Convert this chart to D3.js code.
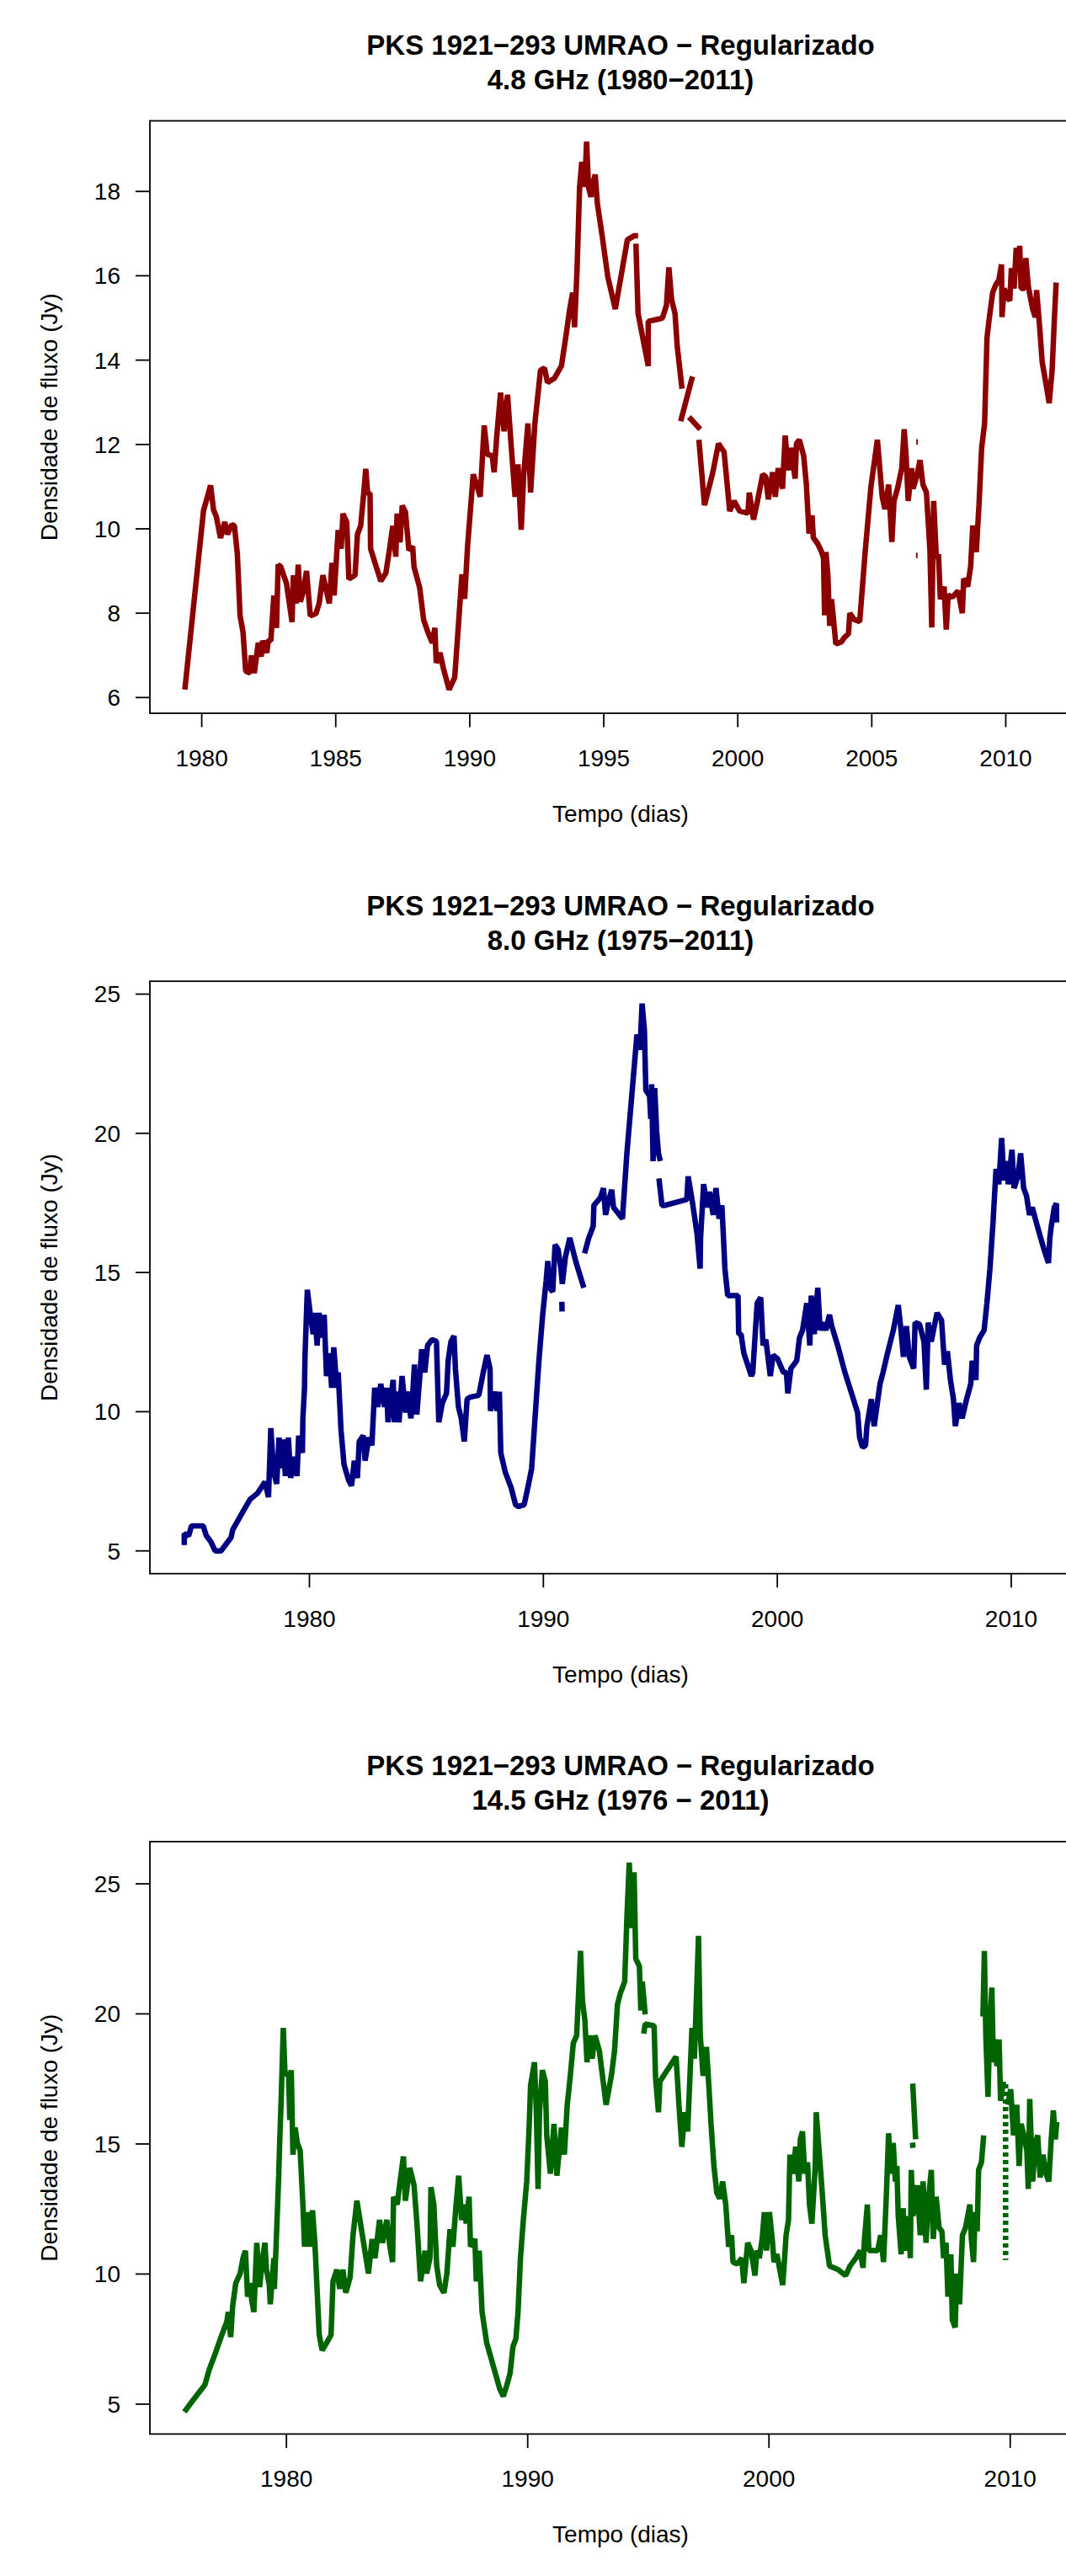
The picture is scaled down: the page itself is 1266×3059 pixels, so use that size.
<!DOCTYPE html>
<html>
<head>
<meta charset="utf-8">
<script src="https://cdn.jsdelivr.net/npm/d3@7"></script>
<style>
  html, body { margin: 0; padding: 0; background: #fff; }
  svg { display: block; font-family: "Liberation Sans", Arial, Helvetica, sans-serif; }
</style>
</head>
<body>
<div id="chart"></div>
<script>
// [ano, fluxo]; null quebra a linha
const serie48 = [
  [1979.37, 6.19], [1980.07, 10.45], [1980.12, 10.55], [1980.33, 11.03], [1980.44, 10.45], [1980.54, 10.3],
  [1980.7, 9.78], [1980.86, 10.16], [1980.96, 9.87], [1981.12, 10.1], [1981.22, 10.07], [1981.33, 9.39],
  [1981.43, 7.94], [1981.54, 7.55], [1981.64, 6.63], [1981.8, 6.58], [1981.85, 7.0], [1981.96, 6.58],
  [1982.11, 7.3], [1982.22, 6.97], [1982.27, 7.35], [1982.43, 7.06], [1982.48, 7.35], [1982.58, 7.35],
  [1982.69, 8.42], [1982.79, 7.65], [1982.85, 9.15], [1982.95, 9.1], [1983.16, 8.71], [1983.26, 8.27],
  [1983.37, 7.79], [1983.42, 8.9], [1983.53, 8.23], [1983.6, 9.15], [1983.68, 8.27], [1983.79, 8.52],
  [1983.91, 9.0], [1984.05, 7.94], [1984.26, 7.99], [1984.38, 8.23], [1984.52, 8.9], [1984.62, 8.61],
  [1984.76, 8.23], [1984.86, 9.19], [1984.94, 8.42], [1985.09, 9.97], [1985.2, 9.53], [1985.27, 10.36],
  [1985.41, 10.16], [1985.49, 8.81], [1985.62, 8.86], [1985.72, 8.9], [1985.81, 9.87], [1985.93, 10.07],
  [1986.03, 10.74], [1986.12, 11.42], [1986.19, 10.84], [1986.28, 10.84], [1986.3, 9.53], [1986.51, 9.1],
  [1986.68, 8.76], [1986.87, 8.95], [1987.0, 9.49], [1987.13, 10.07], [1987.24, 9.34], [1987.29, 10.36],
  [1987.4, 9.68], [1987.48, 10.55], [1987.6, 10.4], [1987.73, 9.49], [1987.87, 9.58], [1987.92, 9.1],
  [1988.13, 8.61], [1988.28, 7.84], [1988.44, 7.55], [1988.6, 7.3], [1988.7, 7.65], [1988.75, 6.82],
  [1988.89, 7.06], [1989.02, 6.68], [1989.23, 6.19], [1989.44, 6.48], [1989.71, 8.92], [1989.81, 8.34],
  [1989.92, 9.6], [1990.13, 11.29], [1990.23, 11.1], [1990.39, 10.76], [1990.54, 12.45], [1990.65, 11.77],
  [1990.84, 11.73], [1990.91, 11.34], [1991.01, 12.21], [1991.15, 13.23], [1991.28, 12.31], [1991.41, 13.18],
  [1991.54, 12.02], [1991.69, 10.76], [1991.8, 11.53], [1991.92, 9.98], [1992.01, 11.24], [1992.17, 12.5],
  [1992.27, 10.86], [1992.43, 12.5], [1992.64, 13.76], [1992.79, 13.81], [1992.9, 13.47], [1993.16, 13.57],
  [1993.42, 13.86], [1993.58, 14.53], [1993.73, 15.21], [1993.84, 15.6], [1993.91, 14.78], [1994.0, 16.08],
  [1994.1, 18.11], [1994.18, 18.7], [1994.29, 18.11], [1994.36, 19.18], [1994.43, 18.11], [1994.52, 17.87],
  [1994.6, 18.21], [1994.68, 18.4], [1994.76, 17.72], [1994.94, 16.95], [1995.15, 15.98], [1995.43, 15.21],
  [1995.67, 16.08], [1995.88, 16.85], [1996.14, 16.95], [1996.28, 16.95], null,
  [1996.2, 16.76], [1996.28, 15.11], [1996.66, 13.86], [1996.66, 14.92], [1997.03, 14.97], [1997.19, 15.0],
  [1997.34, 15.3], [1997.43, 16.2], [1997.53, 15.44], [1997.66, 15.1], [1997.74, 14.34], [1997.92, 13.32], null,
  [1997.87, 12.55], [1998.31, 13.61], null,
  [1998.18, 12.65], [1998.6, 12.36], null,
  [1998.55, 12.11], [1998.76, 10.56], [1999.07, 11.34], [1999.28, 12.02], [1999.49, 11.82], [1999.7, 10.42],
  [1999.86, 10.66], [2000.07, 10.42], [2000.38, 10.37], [2000.43, 10.86], [2000.59, 10.22], [2000.75, 10.7],
  [2000.93, 11.29], [2001.04, 11.24], [2001.14, 10.7], [2001.3, 11.34], [2001.4, 10.76], [2001.51, 11.44],
  [2001.67, 10.95], [2001.77, 12.21], [2001.88, 11.39], [2001.98, 11.92], [2002.14, 11.19], [2002.19, 12.02],
  [2002.3, 12.11], [2002.46, 11.73], [2002.56, 11.05], [2002.66, 9.89], [2002.77, 10.32], [2002.82, 9.79],
  [2002.98, 9.65], [2003.13, 9.45], [2003.2, 9.3], [2003.24, 7.95], [2003.29, 9.45], [2003.36, 8.92],
  [2003.43, 7.7], [2003.5, 8.33], [2003.66, 7.27], [2003.87, 7.32], [2003.97, 7.42], [2004.13, 7.51],
  [2004.18, 8.0], [2004.34, 7.85], [2004.55, 7.8], [2004.76, 9.5], [2004.97, 11.0], [2005.21, 12.11],
  [2005.39, 10.76], [2005.49, 10.47], [2005.63, 11.05], [2005.75, 9.69], [2005.83, 10.66], [2005.96, 10.95],
  [2006.12, 11.44], [2006.21, 12.36], [2006.28, 11.73], [2006.36, 10.66], [2006.49, 11.44], [2006.54, 10.95],
  [2006.68, 11.24], [2006.8, 11.63], [2006.91, 11.05], [2007.04, 10.86], [2007.17, 9.5], [2007.24, 7.66],
  [2007.31, 10.66], [2007.41, 9.31], [2007.49, 9.4], [2007.56, 8.33], [2007.7, 8.63], [2007.78, 7.61],
  [2007.85, 8.43], [2008.01, 8.38], [2008.22, 8.53], [2008.38, 8.0], [2008.43, 8.82], [2008.58, 8.63],
  [2008.69, 9.11], [2008.77, 10.08], [2008.9, 9.45], [2009.0, 10.56], [2009.1, 11.92], [2009.21, 12.5],
  [2009.3, 14.53], [2009.37, 14.92], [2009.51, 15.6], [2009.63, 15.79], [2009.74, 15.89], [2009.84, 16.27],
  [2009.86, 15.02], [2009.94, 15.7], [2010.05, 15.5], [2010.15, 15.41], [2010.21, 16.18], [2010.31, 15.7],
  [2010.39, 16.66], [2010.47, 16.13], [2010.52, 16.71], [2010.57, 15.7], [2010.7, 15.7], [2010.75, 16.42],
  [2010.84, 15.75], [2011.0, 15.22], [2011.1, 15.02], [2011.15, 15.66], [2011.26, 14.82], [2011.36, 13.95],
  [2011.52, 13.37], [2011.62, 12.98], [2011.73, 13.76], [2011.81, 14.92], [2011.88, 15.84], null,
  [2006.66, 12.06], [2006.72, 12.06], null,
  [2006.65, 9.37], [2006.71, 9.37]
];

const serie80 = [
  [1974.65, 5.21], [1974.65, 5.62], [1974.84, 5.55], [1974.96, 5.9], [1975.46, 5.9], [1975.59, 5.55],
  [1975.78, 5.34], [1975.97, 5.0], [1976.22, 5.0], [1976.65, 5.48], [1976.72, 5.76], [1977.09, 6.31],
  [1977.47, 6.86], [1977.78, 7.07], [1978.1, 7.48], [1978.25, 6.93], [1978.35, 9.41], [1978.47, 7.83],
  [1978.6, 7.41], [1978.7, 9.07], [1978.78, 7.97], [1978.88, 9.0], [1978.97, 7.69], [1979.1, 9.07],
  [1979.2, 7.62], [1979.35, 8.38], [1979.47, 7.69], [1979.54, 9.14], [1979.7, 8.52], [1979.72, 9.76],
  [1979.79, 10.86], [1979.81, 11.97], [1979.91, 14.38], [1980.04, 13.48], [1980.16, 12.79], [1980.23, 13.55],
  [1980.33, 12.38], [1980.41, 13.55], [1980.54, 12.66], [1980.63, 13.48], [1980.73, 11.28], [1980.85, 12.1],
  [1980.95, 10.86], [1981.04, 12.31], [1981.17, 10.86], [1981.23, 11.41], [1981.35, 9.34], [1981.48, 8.1],
  [1981.67, 7.55], [1981.8, 7.34], [1981.92, 8.24], [1982.05, 7.62], [1982.13, 8.93], [1982.3, 9.14],
  [1982.38, 8.24], [1982.54, 9.07], [1982.67, 8.79], [1982.79, 10.86], [1982.92, 10.17], [1983.05, 11.0],
  [1983.21, 10.17], [1983.3, 10.86], [1983.36, 9.62], [1983.48, 10.45], [1983.58, 11.14], [1983.63, 9.62],
  [1983.73, 10.72], [1983.83, 9.62], [1983.96, 11.28], [1984.11, 9.97], [1984.17, 10.72], [1984.34, 9.76],
  [1984.42, 10.72], [1984.49, 11.69], [1984.59, 9.9], [1984.72, 11.28], [1984.8, 12.24], [1984.93, 11.41],
  [1985.05, 12.38], [1985.24, 12.59], [1985.43, 12.52], [1985.53, 9.62], [1985.68, 10.31], [1985.86, 10.66],
  [1985.93, 11.83], [1986.05, 12.52], [1986.18, 12.72], [1986.24, 11.55], [1986.37, 10.17], [1986.49, 9.76],
  [1986.62, 8.93], [1986.74, 10.45], [1986.87, 10.52], [1987.24, 10.59], [1987.43, 11.41], [1987.59, 12.03],
  [1987.72, 11.55], [1987.74, 10.03], [1987.93, 10.72], [1988.02, 10.03], [1988.12, 10.72], [1988.18, 8.52],
  [1988.37, 7.83], [1988.62, 7.28], [1988.81, 6.66], [1988.93, 6.59], [1989.18, 6.66], [1989.37, 7.41],
  [1989.5, 7.97], [1989.62, 9.48], [1989.81, 11.83], [1989.97, 13.48], [1990.12, 14.72], [1990.19, 15.41],
  [1990.27, 14.45], [1990.4, 14.31], [1990.5, 16.0], [1990.63, 15.83], [1990.75, 15.14], [1990.81, 14.59],
  [1990.94, 15.55], [1991.13, 16.24], [1991.38, 15.41], [1991.73, 14.45], null,
  [1991.76, 15.69], [1991.94, 16.24], [1992.13, 16.66], [1992.16, 17.41], [1992.44, 17.69], [1992.57, 18.03],
  [1992.66, 17.07], [1992.76, 17.48], [1992.92, 17.97], [1993.0, 17.34], [1993.38, 16.93], [1993.57, 19.28],
  [1993.82, 21.76], [1994.0, 23.55], [1994.13, 23.0], [1994.22, 24.66], [1994.32, 23.69], [1994.38, 21.55],
  [1994.54, 21.34], [1994.59, 20.52], [1994.63, 21.76], [1994.69, 19.0], [1994.76, 21.62], [1994.84, 20.1],
  [1994.92, 19.28], [1995.0, 19.0], null,
  [1994.94, 18.38], [1995.07, 17.41], [1995.19, 17.41], [1996.13, 17.62], [1996.19, 18.45], [1996.38, 17.48],
  [1996.57, 16.38], [1996.7, 15.14], [1996.72, 16.24], [1996.85, 18.17], [1997.01, 17.34], [1997.1, 17.9],
  [1997.26, 17.07], [1997.38, 18.03], [1997.51, 16.93], [1997.63, 17.41], [1997.7, 16.24], [1997.76, 15.14],
  [1997.88, 14.17], [1998.1, 14.17], [1998.32, 14.17], [1998.35, 12.79], [1998.45, 12.79], [1998.57, 12.1],
  [1998.89, 11.28], [1998.95, 11.41], [1999.14, 13.9], [1999.29, 14.1], [1999.39, 12.38], [1999.51, 12.59],
  [1999.7, 11.28], [1999.82, 12.03], [2000.01, 11.9], [2000.26, 11.41], [2000.39, 11.41], [2000.45, 10.66],
  [2000.58, 11.55], [2000.83, 11.83], [2000.95, 12.66], [2001.08, 12.93], [2001.26, 13.9], [2001.39, 12.38],
  [2001.45, 14.17], [2001.58, 12.79], [2001.73, 14.45], [2001.83, 12.93], [2001.95, 13.2], [2002.08, 12.93],
  [2002.23, 13.48], [2002.33, 13.07], [2002.58, 12.38], [2002.89, 11.41], [2003.2, 10.59], [2003.43, 9.97],
  [2003.52, 9.07], [2003.64, 8.72], [2003.77, 8.79], [2003.83, 9.48], [2004.02, 10.45], [2004.14, 9.48],
  [2004.39, 11.0], [2004.52, 11.41], [2004.71, 12.1], [2004.96, 12.93], [2005.17, 13.83], [2005.27, 13.07],
  [2005.39, 11.97], [2005.52, 13.07], [2005.64, 11.97], [2005.83, 11.55], [2005.89, 13.2], [2006.08, 13.14],
  [2006.27, 12.52], [2006.37, 10.79], [2006.45, 13.2], [2006.58, 12.52], [2006.71, 13.07], [2006.83, 13.55],
  [2007.02, 13.28], [2007.15, 11.69], [2007.27, 12.17], [2007.4, 11.14], [2007.53, 10.45], [2007.61, 9.48],
  [2007.77, 10.31], [2007.9, 9.76], [2008.09, 10.45], [2008.27, 11.0], [2008.33, 11.83], [2008.49, 11.14],
  [2008.52, 12.38], [2008.65, 12.66], [2008.84, 12.93], [2008.96, 13.9], [2009.09, 15.14], [2009.22, 16.79],
  [2009.35, 18.72], [2009.47, 18.17], [2009.59, 19.83], [2009.69, 18.31], [2009.82, 19.0], [2009.87, 18.17],
  [2010.03, 19.41], [2010.12, 18.03], [2010.28, 18.45], [2010.4, 19.28], [2010.53, 18.03], [2010.65, 17.76],
  [2010.78, 17.07], [2010.9, 17.34], [2011.03, 16.93], [2011.21, 16.38], [2011.4, 15.83], [2011.59, 15.34],
  [2011.65, 16.24], [2011.71, 16.66], [2011.84, 17.34], [2011.93, 17.48], [2011.94, 16.8], null,
  [1990.79, 13.95], [1990.8, 13.6]
];

const serie145 = [
  [1975.77, 4.7], [1975.95, 4.93], [1976.31, 5.37], [1976.62, 5.74], [1976.8, 6.33], [1977.04, 6.92],
  [1977.29, 7.58], [1977.53, 8.17], [1977.59, 8.54], [1977.69, 7.58], [1977.77, 8.76], [1977.9, 9.65],
  [1978.08, 10.02], [1978.2, 10.61], [1978.3, 10.9], [1978.39, 9.13], [1978.5, 9.65], [1978.56, 9.0],
  [1978.65, 8.54], [1978.77, 11.2], [1978.89, 9.5], [1978.99, 10.46], [1979.11, 11.2], [1979.17, 10.17],
  [1979.29, 9.58], [1979.33, 8.84], [1979.48, 10.61], [1979.5, 9.43], [1979.6, 11.79], [1979.68, 13.78],
  [1979.72, 15.04], [1979.78, 16.66], [1979.87, 19.46], [1979.94, 17.69], [1980.09, 17.69], [1980.14, 15.92],
  [1980.2, 17.84], [1980.27, 14.59], [1980.36, 15.63], [1980.45, 15.04], [1980.57, 14.74], [1980.69, 12.53],
  [1980.75, 11.05], [1980.88, 12.38], [1980.96, 11.05], [1981.08, 12.45], [1981.18, 11.2], [1981.27, 9.43],
  [1981.36, 7.66], [1981.48, 7.07], [1981.67, 7.36], [1981.85, 7.66], [1981.93, 9.72], [1982.09, 10.17],
  [1982.21, 9.43], [1982.34, 10.17], [1982.46, 9.28], [1982.64, 9.87], [1982.76, 11.49], [1982.92, 12.82],
  [1983.07, 11.94], [1983.25, 10.9], [1983.4, 10.02], [1983.55, 11.35], [1983.67, 10.61], [1983.86, 12.08],
  [1983.98, 11.2], [1984.16, 12.08], [1984.29, 11.05], [1984.4, 10.46], [1984.44, 12.97], [1984.59, 12.67],
  [1984.71, 13.56], [1984.85, 14.52], [1984.93, 12.82], [1985.11, 14.08], [1985.29, 13.41], [1985.41, 11.94],
  [1985.56, 9.72], [1985.75, 10.9], [1985.81, 10.02], [1985.95, 10.61], [1985.99, 13.34], [1986.11, 12.67],
  [1986.23, 10.31], [1986.35, 9.58], [1986.53, 9.28], [1986.65, 10.02], [1986.78, 11.72], [1986.9, 11.05],
  [1987.02, 12.53], [1987.14, 13.78], [1987.26, 12.08], [1987.38, 12.67], [1987.45, 11.94], [1987.57, 12.97],
  [1987.63, 11.05], [1987.81, 11.35], [1987.87, 9.72], [1987.99, 10.9], [1988.11, 8.54], [1988.3, 7.36],
  [1988.48, 6.77], [1988.66, 6.18], [1988.84, 5.59], [1988.99, 5.3], [1989.14, 5.74], [1989.27, 6.18],
  [1989.39, 7.21], [1989.51, 7.51], [1989.6, 8.54], [1989.7, 10.61], [1989.82, 12.08], [1989.96, 13.56],
  [1990.06, 15.63], [1990.12, 17.25], [1990.28, 18.14], [1990.36, 16.22], [1990.43, 13.27], [1990.49, 16.22],
  [1990.61, 17.84], [1990.73, 17.4], [1990.79, 15.33], [1990.94, 13.86], [1991.09, 15.77], [1991.21, 13.78],
  [1991.4, 15.63], [1991.52, 14.59], [1991.64, 16.51], [1991.76, 17.55], [1991.89, 18.87], [1992.03, 19.17],
  [1992.19, 22.42], [1992.27, 20.5], [1992.37, 19.76], [1992.46, 18.14], [1992.55, 19.17], [1992.67, 18.28],
  [1992.79, 19.17], [1992.97, 18.58], [1993.09, 17.69], [1993.25, 16.51], [1993.48, 17.69], [1993.6, 18.58],
  [1993.72, 20.35], [1993.84, 20.79], [1994.02, 21.24], [1994.12, 23.89], [1994.21, 25.81], [1994.33, 23.3],
  [1994.41, 25.44], [1994.48, 22.12], [1994.63, 21.83], [1994.69, 20.13], [1994.75, 21.24], [1994.87, 19.98], null,
  [1994.81, 19.24], [1994.87, 19.61], [1995.24, 19.54], [1995.3, 17.55], [1995.42, 16.22], [1995.48, 17.4],
  [1996.15, 18.36], [1996.27, 16.51], [1996.39, 14.89], [1996.51, 16.22], [1996.63, 15.48], [1996.81, 19.46],
  [1996.91, 18.28], [1997.08, 23.0], [1997.15, 19.24], [1997.27, 17.62], [1997.41, 18.73], [1997.48, 17.69],
  [1997.6, 15.77], [1997.72, 14.15], [1997.84, 13.12], [1997.96, 12.9], [1998.08, 13.56], [1998.21, 12.67],
  [1998.33, 11.05], [1998.45, 11.49], [1998.51, 10.46], [1998.69, 10.39], [1998.87, 10.61], [1998.96, 9.65],
  [1999.12, 11.2], [1999.26, 10.9], [1999.42, 9.94], [1999.5, 10.9], [1999.6, 10.61], [1999.72, 11.35],
  [1999.81, 12.38], [1999.9, 10.9], [2000.02, 12.38], [2000.15, 11.2], [2000.21, 10.46], [2000.33, 10.76],
  [2000.45, 10.17], [2000.57, 9.58], [2000.65, 10.61], [2000.71, 11.49], [2000.81, 12.08], [2000.87, 14.59],
  [2000.99, 13.86], [2001.11, 14.89], [2001.24, 13.56], [2001.3, 15.18], [2001.39, 15.48], [2001.48, 13.86],
  [2001.6, 14.3], [2001.68, 12.67], [2001.78, 11.94], [2001.92, 14.15], [2001.96, 16.22], [2002.08, 14.74],
  [2002.21, 13.12], [2002.33, 11.49], [2002.51, 10.31], [2002.87, 10.17], [2003.18, 9.94], [2003.36, 10.31],
  [2003.6, 10.61], [2003.78, 10.9], [2003.9, 10.24], [2003.96, 11.35], [2004.08, 12.67], [2004.14, 10.9],
  [2004.33, 10.9], [2004.51, 10.9], [2004.63, 11.49], [2004.75, 10.46], [2004.87, 13.12], [2004.96, 15.41],
  [2005.05, 13.86], [2005.15, 15.04], [2005.24, 13.56], [2005.3, 14.15], [2005.36, 12.23], [2005.48, 10.76],
  [2005.56, 12.53], [2005.65, 10.9], [2005.78, 12.23], [2005.86, 10.61], [2005.9, 14.0], [2005.97, 12.23],
  [2006.15, 13.41], [2006.27, 11.49], [2006.39, 13.56], [2006.51, 11.2], [2006.61, 12.82], [2006.73, 14.0],
  [2006.81, 11.35], [2006.93, 12.97], [2007.05, 11.79], [2007.17, 11.64], [2007.24, 10.61], [2007.34, 11.2],
  [2007.42, 9.13], [2007.54, 10.76], [2007.6, 8.25], [2007.72, 7.95], [2007.78, 10.02], [2007.9, 8.84],
  [2008.02, 11.49], [2008.15, 11.79], [2008.33, 12.67], [2008.39, 11.35], [2008.48, 10.46], [2008.55, 12.38],
  [2008.63, 11.64], [2008.69, 14.0], [2008.81, 14.3], [2008.9, 15.33], null,
  [2008.87, 19.9], [2008.93, 22.42], [2008.99, 19.17], [2009.08, 16.81], [2009.15, 19.46], [2009.24, 21.01],
  [2009.3, 18.14], [2009.36, 19.02], [2009.45, 17.99], [2009.54, 19.02], [2009.6, 16.66], [2009.72, 17.4], null,
  [2009.9, 16.51], [2010.02, 17.1], [2010.14, 15.33], [2010.27, 16.51], [2010.37, 14.15], [2010.45, 15.77],
  [2010.57, 15.33], [2010.69, 14.74], [2010.75, 13.27], [2010.81, 16.73], [2010.93, 13.56], [2011.05, 15.04],
  [2011.14, 15.33], [2011.24, 13.71], [2011.36, 14.59], [2011.48, 13.86], [2011.6, 13.56], [2011.7, 15.18],
  [2011.79, 16.29], [2011.87, 15.18], [2011.93, 15.85], null,
  [2005.96, 17.32], [2006.08, 15.18], null,
  [2005.95, 15.05], [2005.97, 14.85]
];

// trechos pontilhados (quedas verticais)
const pont145 = [[2009.81, 17.3], [2009.81, 10.54]];

const ticksX48 = [1980, 1985, 1990, 1995, 2000, 2005, 2010];
const ticksX80 = [1980, 1990, 2000, 2010];
const ticksY48 = [6, 8, 10, 12, 14, 16, 18];
const ticksY80 = [5, 10, 15, 20, 25];

const titulo = "PKS 1921\u2212293 UMRAO \u2212 Regularizado";
const subtitulos = ["4.8 GHz (1980\u22122011)", "8.0 GHz (1975\u22122011)", "14.5 GHz (1976 \u2212 2011)"];

const width = 1266;
const height = 3059;
const pitch = 1021.7;
const box = { left: 178, right: 1296, top: 143.5, bottom: 847 };

const paineis = [
  { serie: serie48, pont: [], cor: "#8b0000", sub: subtitulos[0], xDom: [1978.065, 2013.19], yDom: [5.627, 19.673], tx: ticksX48, ty: ticksY48 },
  { serie: serie80, pont: [], cor: "#000080", sub: subtitulos[1], xDom: [1973.18, 2013.42], yDom: [4.183, 25.463], tx: ticksX80, ty: ticksY80 },
  { serie: serie145, pont: pont145, cor: "#006400", sub: subtitulos[2], xDom: [1974.34, 2013.36], yDom: [3.851, 26.622], tx: ticksX80, ty: ticksY80 }
];

const svg = d3.select("#chart")
  .append("svg")
  .attr("width", width)
  .attr("height", height);

svg.append("rect").attr("width", width).attr("height", height).attr("fill", "#fff");

paineis.forEach((p, i) => {
  const g = svg.append("g").attr("transform", `translate(0,${i * pitch})`);

  const x = d3.scaleLinear().domain(p.xDom).range([box.left, box.right]);
  const y = d3.scaleLinear().domain(p.yDom).range([box.bottom, box.top]);

  // titulo
  g.append("text")
    .attr("x", (box.left + box.right) / 2)
    .attr("y", 65)
    .attr("text-anchor", "middle")
    .style("font-size", "33px")
    .style("font-weight", "bold")
    .text(titulo);
  g.append("text")
    .attr("x", (box.left + box.right) / 2)
    .attr("y", 106)
    .attr("text-anchor", "middle")
    .style("font-size", "33px")
    .style("font-weight", "bold")
    .text(p.sub);

  // serie
  const linha = d3.line()
    .defined(d => d !== null)
    .x(d => x(d[0]))
    .y(d => y(d[1]));

  g.append("path")
    .datum(p.serie)
    .attr("fill", "none")
    .attr("stroke", p.cor)
    .attr("stroke-width", 6.5)
    .attr("stroke-linejoin", "bevel")
    .attr("stroke-linecap", "butt")
    .attr("d", linha);

  if (p.pont.length) {
    g.append("path")
      .datum(p.pont)
      .attr("fill", "none")
      .attr("stroke", p.cor)
      .attr("stroke-width", 6.5)
      .attr("stroke-dasharray", "5,4")
      .attr("d", linha);
  }

  // caixa
  g.append("rect")
    .attr("x", box.left)
    .attr("y", box.top)
    .attr("width", box.right - box.left)
    .attr("height", box.bottom - box.top)
    .attr("fill", "none")
    .attr("stroke", "#000")
    .attr("stroke-width", 1.8);

  // eixo x
  const gx = g.append("g");
  gx.selectAll("line")
    .data(p.tx)
    .enter()
    .append("line")
    .attr("x1", d => x(d))
    .attr("x2", d => x(d))
    .attr("y1", box.bottom)
    .attr("y2", box.bottom + 16.5)
    .attr("stroke", "#000")
    .attr("stroke-width", 1.8);
  gx.selectAll("text")
    .data(p.tx)
    .enter()
    .append("text")
    .attr("x", d => x(d))
    .attr("y", 910)
    .attr("text-anchor", "middle")
    .style("font-size", "28px")
    .text(d => d);

  // eixo y
  const gy = g.append("g");
  gy.selectAll("line")
    .data(p.ty)
    .enter()
    .append("line")
    .attr("x1", box.left)
    .attr("x2", box.left - 17)
    .attr("y1", d => y(d))
    .attr("y2", d => y(d))
    .attr("stroke", "#000")
    .attr("stroke-width", 1.8);
  gy.selectAll("text")
    .data(p.ty)
    .enter()
    .append("text")
    .attr("x", 143)
    .attr("y", d => y(d) + 10)
    .attr("text-anchor", "end")
    .style("font-size", "28px")
    .text(d => d);

  // rotulos
  g.append("text")
    .attr("x", (box.left + box.right) / 2)
    .attr("y", 976)
    .attr("text-anchor", "middle")
    .style("font-size", "28px")
    .text("Tempo (dias)");
  g.append("text")
    .attr("transform", `translate(67.5,${(box.top + box.bottom) / 2}) rotate(-90)`)
    .attr("text-anchor", "middle")
    .style("font-size", "28px")
    .text("Densidade de fluxo (Jy)");
});
</script>
</body>
</html>
